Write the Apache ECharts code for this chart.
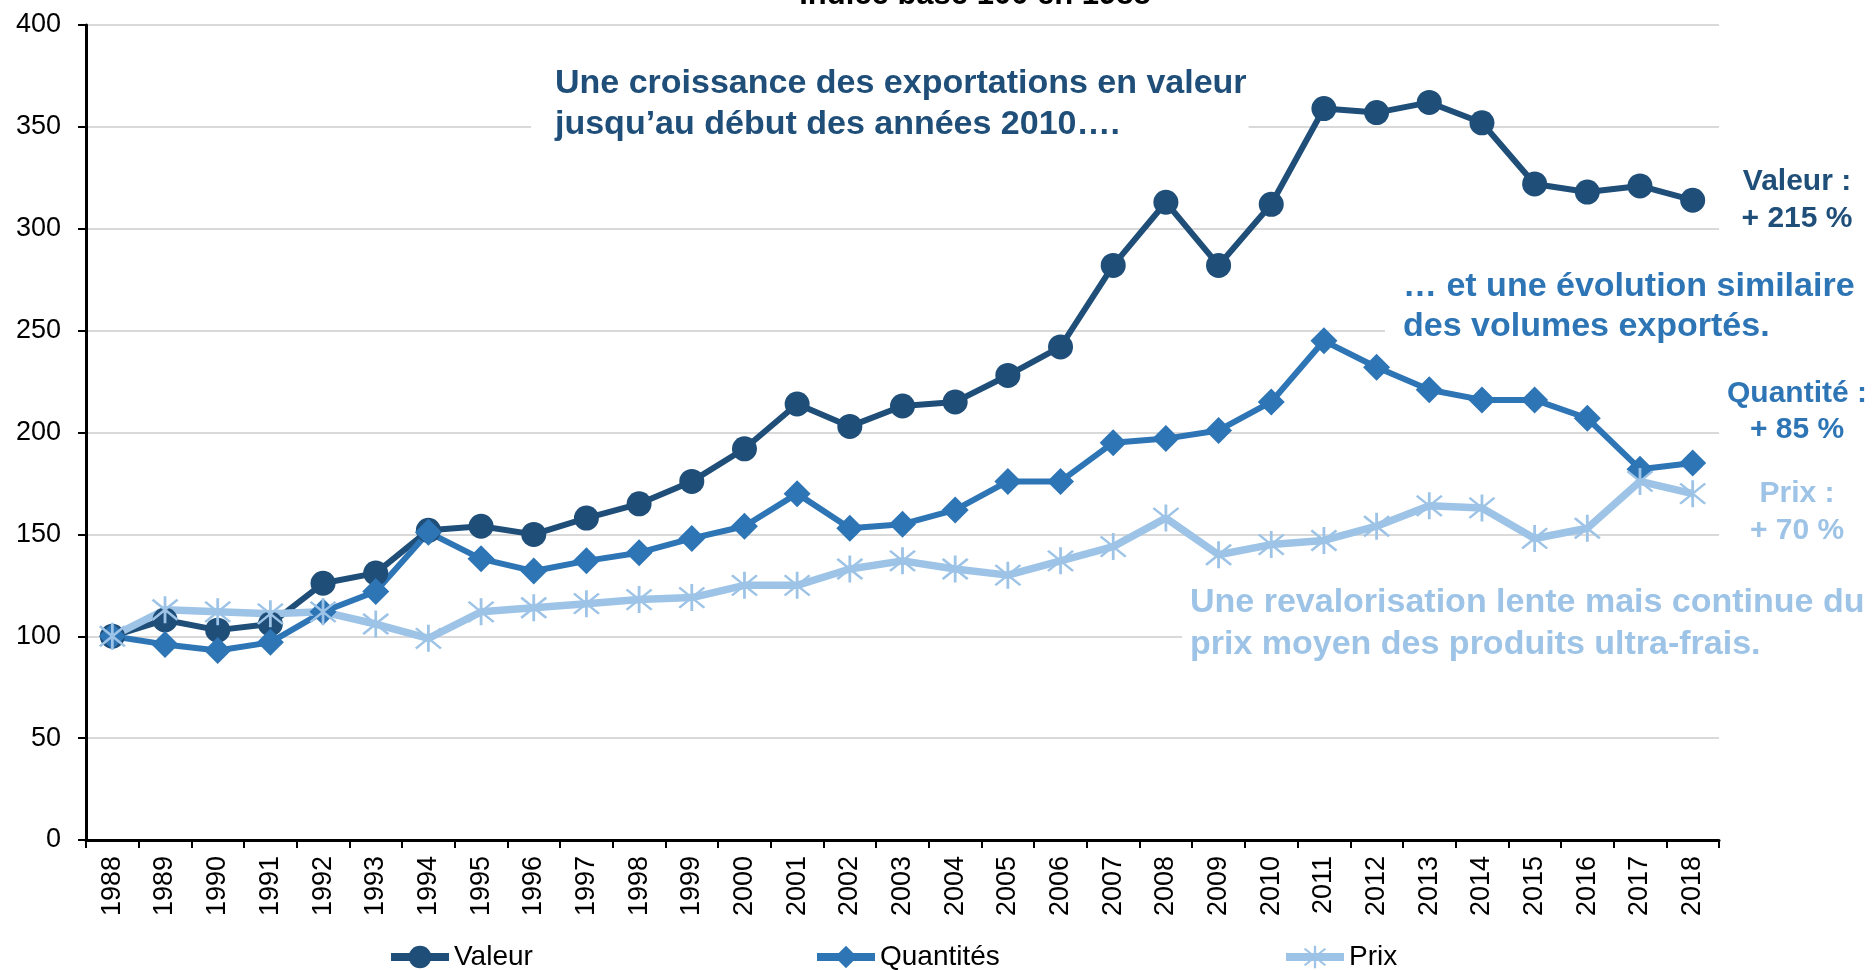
<!DOCTYPE html>
<html>
<head>
<meta charset="utf-8">
<title>Exportations ultra-frais</title>
<script src="https://cdn.jsdelivr.net/npm/echarts@6/dist/echarts.min.js"></script>
<style>
    html, body { margin: 0; padding: 0; background: #ffffff; }
    #main { width: 1872px; height: 970px; }
</style>
</head>
<body>
<div id="main"></div>
<script>
'use strict';
var years = ['1988','1989','1990','1991','1992','1993','1994','1995','1996','1997','1998','1999','2000','2001','2002','2003',
    '2004','2005','2006','2007','2008','2009','2010','2011','2012','2013','2014','2015','2016','2017','2018'];
var valeur = [100,108,103,106,126,131,152,154,150,158,165,176,192,214,203,213,215,228,242,282,313,282,312,359,357,362,352,322,318,321,314];
var quantites = [100,96,93,97,112,122,151,138,132,137,141,148,154,170,153,155,162,176,176,195,197,201,215,245,232,221,216,216,207,182,185];
var prix = [100,113,112,111,112,106,99,112,114,116,118,119,125,125,133,137,133,130,137,144,158,140,145,147,154,164,163,148,153,176,170];
var yTicks = [0,50,100,150,200,250,300,350,400];

var FONT = "'Liberation Sans', Arial, sans-serif";
var C_VAL = '#1f4e79', C_QTE = '#2e75b6', C_PRIX = '#9dc3e6';
// asterisque facon Excel : barre verticale + deux diagonales
var STAR = 'path://M11,0L13,0L13,24L11,24Z M2.3,3.7L3.7,2.3L21.7,20.3L20.3,21.7Z M20.3,2.3L21.7,3.7L3.7,21.7L2.3,20.3Z';

function note(text, x, y, color, size, lh, extra){
    var style = {
        text: text,
        fill: color,
        font: 'bold ' + size + 'px ' + FONT,
        lineHeight: lh,
        align: 'left',
        verticalAlign: 'top'
    };
    for(var k in extra){ style[k] = extra[k]; }
    return { type: 'text', x: x, y: y, z: 10, style: style };
}

function legendAt(name, left){
    return {
        data: [name], left: left, top: 943, padding: 0,
        itemWidth: 58, itemHeight: 28,
        lineStyle: { width: 8 },
        textStyle: { fontSize: 28, color: '#000', fontFamily: FONT }
    };
}

var myChart = echarts.init(document.getElementById('main'));
var option = {
    backgroundColor: '#ffffff',
    animation: false,
    grid: { left: 86, right: 153, top: 25, bottom: 130 },
    legend: [legendAt('Valeur', 387), legendAt('Quantités', 813), legendAt('Prix', 1282)],
    xAxis: {
        type: 'category',
        data: years,
        boundaryGap: true,
        axisLine: { lineStyle: { color: '#000', width: 3 } },
        axisTick: { show: true, length: 8, lineStyle: { color: '#000', width: 2 }, interval: 0 },
        axisLabel: { rotate: 90, interval: 0, margin: 16, fontSize: 27, color: '#000', fontFamily: FONT }
    },
    yAxis: {
        type: 'value',
        min: yTicks[0],
        max: yTicks[yTicks.length - 1],
        interval: 50,
        axisLine: { show: true, lineStyle: { color: '#000', width: 3 } },
        axisTick: { show: true, length: 8, lineStyle: { color: '#000', width: 2 } },
        axisLabel: { margin: 25, fontSize: 27, color: '#000', fontFamily: FONT },
        splitLine: { lineStyle: { color: '#d9d9d9', width: 2 } }
    },
    series: [
        {
            name: 'Valeur', type: 'line', data: valeur,
            symbol: 'circle', symbolSize: 25,
            itemStyle: { color: C_VAL },
            lineStyle: { color: C_VAL, width: 6 }
        },
        {
            name: 'Quantités', type: 'line', data: quantites,
            symbol: 'diamond', symbolSize: 27,
            itemStyle: { color: C_QTE },
            lineStyle: { color: C_QTE, width: 6 }
        },
        {
            name: 'Prix', type: 'line', data: prix,
            symbol: STAR, symbolSize: 27,
            itemStyle: { color: C_PRIX },
            lineStyle: { color: C_PRIX, width: 7.5 }
        }
    ],
    graphic: [
        { type: 'text', x: 975, y: -5, style: { text: 'Indice base 100 en 1988', fill: '#000', font: 'bold 31px ' + FONT, align: 'center', verticalAlign: 'middle' } },
        note('Une croissance des exportations en valeur\njusqu\u2019au début des années 2010\u2026.', 531, 63, C_VAL, 34, 41,
            { backgroundColor: '#fff', padding: [0, 2, 0, 24] }),
        note('\u2026 et une évolution similaire\ndes volumes exportés.', 1385, 267, C_QTE, 34, 40,
            { backgroundColor: '#fff', padding: [0, 10, 0, 18] }),
        note('Une revalorisation lente mais continue du\nprix moyen des produits ultra-frais.', 1182, 582, C_PRIX, 34, 42,
            { backgroundColor: '#fff', padding: [0, 4, 0, 8] }),
        note('Valeur :\n+ 215 %', 1797, 163, C_VAL, 30, 37, { align: 'center' }),
        note('Quantité :\n+ 85 %', 1797, 376, C_QTE, 30, 36, { align: 'center' }),
        note('Prix :\n+ 70 %', 1797, 475, C_PRIX, 30, 37, { align: 'center' })
    ]
};
myChart.setOption(option);
</script>
</body>
</html>
